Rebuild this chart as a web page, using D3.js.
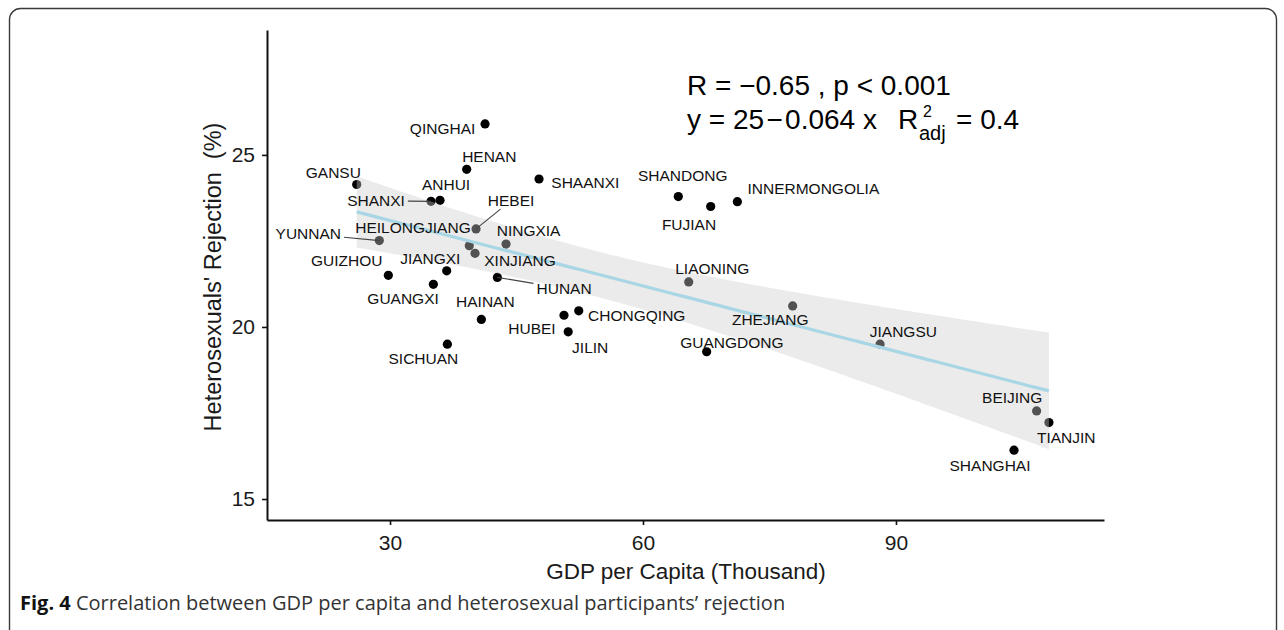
<!DOCTYPE html>
<html>
<head>
<meta charset="utf-8">
<script src="https://cdn.jsdelivr.net/npm/d3@7"></script>
<style>
  body { margin: 0; background: #fff; }
  svg { display: block; }
</style>
</head>
<body>
<svg id="chart" width="1284" height="630"></svg>
<script>
// province names, GDP per capita (thousand) and heterosexuals' rejection (%)
const provinces = ["QINGHAI","HENAN","SHAANXI","GANSU","ANHUI","SHANXI","HEBEI","HEILONGJIANG",
  "XINJIANG","NINGXIA","YUNNAN","GUIZHOU","JIANGXI","GUANGXI","HUNAN","HAINAN","SICHUAN",
  "HUBEI","CHONGQING","JILIN","SHANDONG","FUJIAN","INNERMONGOLIA","LIAONING","ZHEJIANG",
  "GUANGDONG","JIANGSU","BEIJING","TIANJIN","SHANGHAI"];
const gdp = [41.27, 39.09, 47.67, 26.05, 35.93, 34.86, 40.20, 39.40,
  40.08, 43.76, 28.73, 29.80, 36.72, 35.14, 42.73, 40.83, 36.80,
  50.63, 52.38, 51.13, 64.19, 68.03, 71.19, 65.42, 77.75,
  67.55, 88.11, 106.68, 108.14, 104.00];
const rejection = [25.90, 24.58, 24.30, 24.14, 23.68, 23.65, 22.85, 22.36,
  22.14, 22.41, 22.51, 21.50, 21.63, 21.24, 21.44, 20.22, 19.50,
  20.34, 20.47, 19.86, 23.79, 23.50, 23.64, 21.31, 20.61,
  19.28, 19.50, 17.56, 17.22, 16.42];

const xTicks = [30, 60, 90];
const yTicks = [15, 20, 25];

// where the repelled labels sit, in px from their point, and which got a segment
const labelDx = [-42.5, 22.6, 46.3, -23.4, 6, -55, 35, -56.3,
  45, 22.5, -71, -41.6, -16.4, -30.3, 66.7, 4, -24,
  -32, 58, 22, 4.4, -21.7, 76, 23.6, -22.4,
  25.3, 23.3, -24.4, 17.3, -24];
const labelDy = [4.3, -12.6, 3.7, -12, -16.3, -0.6, -28.3, -18.7,
  7.4, -14, -6.7, -15.3, -12.7, 14, 11, -17.6, 14,
  13.3, 4.7, 15.4, -20.7, 18.3, -13.4, -13.7, 13.3,
  -9.4, -12.6, -13.3, 14.6, 15];
const leader = ["SHANXI", "HEBEI", "YUNNAN", "HUNAN"];

const statLine1 = "R = \u22120.65 , p < 0.001";
const statLine2 = "y = 25\u200a\u2212\u200a0.064 x";

const svg = d3.select("#chart");
const font = "'Liberation Sans', Arial, Helvetica, sans-serif";

// frame round the figure
svg.append("rect")
  .attr("x", 9.5).attr("y", 8.5)
  .attr("width", 1267).attr("height", 660)
  .attr("rx", 11)
  .attr("fill", "none")
  .attr("stroke", "#3a3a3a")
  .attr("stroke-width", 1.4);

const x = d3.scaleLinear().domain([15.41, 114.67]).range([267, 1104]);
const y = d3.scaleLinear().domain([14.39, 28.63]).range([520, 30]);

const data = provinces.map((p, i) => ({name: p, gdp: gdp[i], rej: rejection[i], dx: labelDx[i], dy: labelDy[i]}));

// points first, the smoother band goes over them
svg.append("g")
  .selectAll("circle")
  .data(data)
  .join("circle")
    .attr("cx", d => x(d.gdp))
    .attr("cy", d => y(d.rej))
    .attr("r", 4.6)
    .attr("fill", "#000");

// linear fit with 95% confidence band, like geom_smooth(method = "lm")
const n = data.length;
const xm = d3.mean(gdp), ym = d3.mean(rejection);
let sxx = 0, sxy = 0;
data.forEach(d => { sxx += (d.gdp - xm) ** 2; sxy += (d.gdp - xm) * (d.rej - ym); });
const slope = sxy / sxx;
const intercept = ym - slope * xm;
let sse = 0;
data.forEach(d => { sse += (d.rej - (intercept + slope * d.gdp)) ** 2; });
const se = Math.sqrt(sse / (n - 2));
const tCrit = 2.048; // t(0.975, 28)

const [xmin, xmax] = d3.extent(gdp);
const grid = d3.range(0, 81).map(k => {
  const gx = xmin + (xmax - xmin) * k / 80;
  const fit = intercept + slope * gx;
  const half = tCrit * se * Math.sqrt(1 / n + (gx - xm) ** 2 / sxx);
  return {gx, fit, lo: fit - half, hi: fit + half};
});

svg.append("path")
  .datum(grid)
  .attr("d", d3.area().x(d => x(d.gx)).y0(d => y(d.lo)).y1(d => y(d.hi)))
  .attr("fill", "#cccccc")
  .attr("opacity", 0.4);

svg.append("path")
  .datum(grid)
  .attr("d", d3.line().x(d => x(d.gx)).y(d => y(d.fit)))
  .attr("fill", "none")
  .attr("stroke", "#a9d6e5")
  .attr("stroke-width", 3.2);

// labels
const lab = svg.append("g");
data.forEach(d => {
  const px = x(d.gdp), py = y(d.rej);
  const t = lab.append("text")
    .attr("x", px + d.dx)
    .attr("y", py + d.dy)
    .attr("dy", "0.36em")
    .attr("text-anchor", "middle")
    .attr("font-family", font)
    .attr("font-size", 15.5)
    .attr("fill", "#111")
    .text(d.name);

  if (leader.includes(d.name)) {
    const b = t.node().getBBox();
    const pad = 3;
    const cx = b.x + b.width / 2, cy = py + d.dy;
    const hw = b.width / 2 + pad, hh = 5.5 + pad;
    const vx = px - cx, vy = py - cy;
    const s = Math.min(hw / Math.abs(vx || 1e-9), hh / Math.abs(vy || 1e-9));
    lab.append("line")
      .attr("x1", cx + vx * s).attr("y1", cy + vy * s)
      .attr("x2", px).attr("y2", py)
      .attr("stroke", "#444")
      .attr("stroke-width", 1.1);
  }
});

// axes
const xAxis = svg.append("g")
  .attr("transform", "translate(0,520)")
  .call(d3.axisBottom(x).tickValues(xTicks).tickSize(5).tickSizeOuter(0).tickPadding(10));
const yAxis = svg.append("g")
  .attr("transform", "translate(267,0)")
  .call(d3.axisLeft(y).tickValues(yTicks).tickSize(5).tickSizeOuter(0).tickPadding(7));

[xAxis, yAxis].forEach(g => {
  g.select(".domain").attr("stroke", "#111").attr("stroke-width", 2);
  g.selectAll(".tick line").attr("stroke", "#111").attr("stroke-width", 1.6);
  g.selectAll(".tick text")
    .attr("font-family", font)
    .attr("font-size", 21)
    .attr("fill", "#1a1a1a");
});

// axis titles
svg.append("text")
  .attr("x", 686).attr("y", 579)
  .attr("text-anchor", "middle")
  .attr("font-family", font)
  .attr("font-size", 22.5)
  .attr("fill", "#1a1a1a")
  .text("GDP per Capita (Thousand)");

svg.append("text")
  .attr("transform", "translate(221,277) rotate(-90)")
  .attr("text-anchor", "middle")
  .attr("font-family", font)
  .attr("font-size", 23.5)
  .attr("fill", "#1a1a1a")
  .attr("xml:space", "preserve")
  .text("Heterosexuals' Rejection  (%)");

// stats annotation: R^2 with "adj" subscript, as plotmath sets it
const st = svg.append("g").attr("font-family", font).attr("fill", "#000");
st.append("text").attr("x", 687).attr("y", 95).attr("font-size", 28).text(statLine1);
st.append("text").attr("x", 687).attr("y", 129).attr("font-size", 28).text(statLine2);
st.append("text").attr("x", 898).attr("y", 129).attr("font-size", 28).text("R");
st.append("text").attr("x", 923).attr("y", 117).attr("font-size", 16).text("2");
st.append("text").attr("x", 919).attr("y", 140).attr("font-size", 20).text("adj");
st.append("text").attr("x", 956).attr("y", 129).attr("font-size", 28).text("= 0.4");

// caption
const cap = svg.append("text")
  .attr("x", 20).attr("y", 610)
  .attr("font-family", "'Open Sans', 'Noto Sans', sans-serif")
  .attr("font-size", 20)
  .attr("fill", "#333");
cap.append("tspan").attr("font-weight", "bold").attr("fill", "#111").text("Fig. 4");
cap.append("tspan").text(" Correlation between GDP per capita and heterosexual participants\u2019 rejection");
</script>
</body>
</html>
